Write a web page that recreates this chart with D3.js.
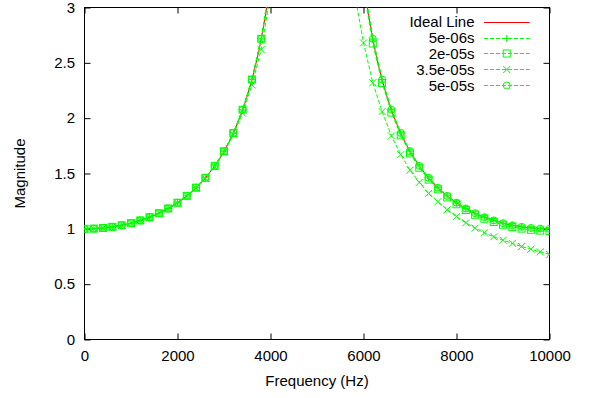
<!DOCTYPE html>
<html>
<head>
<meta charset="utf-8">
<script src="https://cdn.jsdelivr.net/npm/d3@7"></script>
<style>
  html, body { margin: 0; padding: 0; background: #fff; }
  svg { display: block; }
  text { font-family: "Liberation Sans", Arial, Helvetica, sans-serif; }
</style>
</head>
<body>
<svg id="chart" width="590" height="398"></svg>
<script>
// ---- data ----
const freq = [0,200,400,600,800,1000,1200,1400,1600,1800,2000,2200,2400,2600,2800,3000,3200,3400,3600,3800,4000,4200,4400,4600,4800,5000,5200,5400,5600,5800,6000,6200,6400,6600,6800,7000,7200,7400,7600,7800,8000,8200,8400,8600,8800,9000,9200,9400,9600,9800,10000];

const idealMag = [1.000,1.002,1.008,1.018,1.032,1.051,1.076,1.105,1.141,1.184,1.236,1.298,1.372,1.461,1.569,1.701,1.866,2.076,2.349,2.717,3.236,4.021,5.337,7.979,15.93,null,15.93,7.979,5.337,4.021,3.236,2.717,2.349,2.076,1.866,1.701,1.569,1.461,1.372,1.298,1.236,1.184,1.141,1.105,1.076,1.051,1.032,1.018,1.008,1.002,1.000];

const mag5e06 = [1.000,1.002,1.008,1.018,1.032,1.051,1.076,1.105,1.141,1.184,1.236,1.298,1.372,1.461,1.569,1.701,1.866,2.076,2.349,2.717,3.236,4.021,5.337,7.979,15.93,null,15.93,7.979,5.337,4.021,3.236,2.717,2.349,2.076,1.866,1.701,1.569,1.461,1.372,1.298,1.236,1.184,1.141,1.105,1.076,1.051,1.032,1.018,1.008,1.002,1.000];

const mag2e05 = [1.000,1.002,1.008,1.018,1.032,1.051,1.076,1.105,1.141,1.184,1.236,1.298,1.372,1.461,1.569,1.701,1.866,2.076,2.349,2.717,3.236,4.021,5.337,7.979,15.93,null,15.60,7.850,5.250,3.960,3.170,2.675,2.318,2.050,1.845,1.682,1.552,1.445,1.357,1.284,1.222,1.170,1.127,1.091,1.062,1.037,1.017,1.002,0.991,0.984,0.980];

const mag35e05 = [1.000,1.002,1.008,1.018,1.032,1.051,1.075,1.104,1.140,1.183,1.234,1.295,1.368,1.455,1.561,1.690,1.850,2.045,2.300,2.620,3.120,3.850,5.000,7.200,13.00,null,12.00,6.500,4.400,3.150,2.680,2.320,2.060,1.840,1.670,1.530,1.420,1.320,1.245,1.172,1.110,1.055,1.006,0.964,0.928,0.897,0.868,0.840,0.816,0.792,0.769];

const mag5e05 = [1.000,1.002,1.008,1.018,1.032,1.051,1.076,1.105,1.141,1.184,1.236,1.298,1.372,1.461,1.569,1.701,1.866,2.076,2.349,2.717,3.236,4.021,5.337,7.979,15.93,null,15.93,7.979,5.337,4.021,3.236,2.717,2.349,2.076,1.866,1.701,1.569,1.461,1.372,1.298,1.236,1.184,1.141,1.105,1.076,1.051,1.032,1.018,1.008,1.002,1.000];

const seriesNames = ["Ideal Line", "5e-06s", "2e-05s", "3.5e-05s", "5e-05s"];
const xTicks = [0, 2000, 4000, 6000, 8000, 10000];
const yTicks = [0, 0.5, 1, 1.5, 2, 2.5, 3];
const xLabel = "Frequency (Hz)";
const yLabel = "Magnitude";

// ---- layout ----
const svg = d3.select("#chart");
const L = 84.5, R = 549.5, T = 7.5, B = 339.5;
const FONT = 15;
const green = "#00ff00";

const x = d3.scaleLinear().domain([0, 10000]).range([L, R]);
const y = d3.scaleLinear().domain([0, 3]).range([B, T]);

svg.append("defs").append("clipPath").attr("id", "plotclip")
  .append("rect").attr("x", L).attr("y", T).attr("width", R - L).attr("height", B - T);

// axes (ticks inward, mirrored)
const fmt = d => String(d);
const gx = svg.append("g").attr("transform", `translate(0,${B})`)
  .call(d3.axisBottom(x).tickValues(xTicks).tickFormat(fmt).tickSizeInner(-6).tickSizeOuter(0).tickPadding(11));
const gxt = svg.append("g").attr("transform", `translate(0,${T})`)
  .call(d3.axisTop(x).tickValues(xTicks).tickFormat("").tickSizeInner(-6).tickSizeOuter(0));
const gy = svg.append("g").attr("transform", `translate(${L},0)`)
  .call(d3.axisLeft(y).tickValues(yTicks).tickFormat(fmt).tickSizeInner(-6).tickSizeOuter(0).tickPadding(9.5));
const gyr = svg.append("g").attr("transform", `translate(${R},0)`)
  .call(d3.axisRight(y).tickValues(yTicks).tickFormat("").tickSizeInner(-6).tickSizeOuter(0));

[gx, gxt, gy, gyr].forEach(g => {
  g.select(".domain").remove();
  g.selectAll(".tick line").attr("stroke", "#000").attr("stroke-width", 1);
  g.selectAll("text").attr("font-size", FONT).attr("fill", "#000")
    .attr("font-family", '"Liberation Sans", Arial, Helvetica, sans-serif');
});

svg.append("rect").attr("x", L).attr("y", T).attr("width", R - L).attr("height", B - T)
  .attr("fill", "none").attr("stroke", "#000").attr("stroke-width", 1);

// axis titles
svg.append("text").attr("x", (L + R) / 2).attr("y", 386).attr("text-anchor", "middle")
  .attr("font-size", FONT).text(xLabel);
svg.append("text").attr("transform", `translate(24.5,${(T + B) / 2}) rotate(-90)`)
  .attr("text-anchor", "middle").attr("font-size", FONT).text(yLabel);

// ---- series ----
const plot = svg.append("g").attr("clip-path", "url(#plotclip)");

function toPts(vals) { return freq.map((f, i) => ({ f, v: vals[i] })); }

const lineSmooth = d3.line().defined(d => d.v !== null).x(d => x(d.f)).y(d => y(d.v)).curve(d3.curveMonotoneX);
const lineLin = d3.line().defined(d => d.v !== null).x(d => x(d.f)).y(d => y(d.v));

// marker drawing functions
const S = 3.5;
const markers = {
  plus: (g, cx, cy) => g.append("path").attr("d", `M${cx - S},${cy}H${cx + S}M${cx},${cy - S}V${cy + S}`),
  square: (g, cx, cy) => g.append("rect").attr("x", cx - S).attr("y", cy - S).attr("width", 2 * S).attr("height", 2 * S),
  cross: (g, cx, cy) => g.append("path").attr("d", `M${cx - S},${cy - S}L${cx + S},${cy + S}M${cx - S},${cy + S}L${cx + S},${cy - S}`),
  circle: (g, cx, cy) => g.append("circle").attr("cx", cx).attr("cy", cy).attr("r", S)
};

// ideal line (red)
plot.append("path").datum(toPts(idealMag)).attr("d", lineSmooth)
  .attr("fill", "none").attr("stroke", "#ff0000").attr("stroke-width", 1);

const greenSeries = [
  { name: seriesNames[1], vals: mag5e06, mk: "plus" },
  { name: seriesNames[2], vals: mag2e05, mk: "square" },
  { name: seriesNames[3], vals: mag35e05, mk: "cross" },
  { name: seriesNames[4], vals: mag5e05, mk: "circle" }
];

greenSeries.forEach(s => {
  const pts = toPts(s.vals);
  plot.append("path").datum(pts).attr("d", lineLin)
    .attr("fill", "none").attr("stroke", green).attr("stroke-width", 1).attr("stroke-dasharray", "4,2");
  const mg = plot.append("g").attr("fill", "none").attr("stroke", green).attr("stroke-width", 1);
  pts.filter(d => d.v !== null && d.v <= 3.2).forEach(d => markers[s.mk](mg, x(d.f), y(d.v)));
});

// ---- legend ----
const leg = svg.append("g");
const legTextX = 474.5, legX1 = 484, legX2 = 529.5, legRow0 = 27.3, legStep = 15.8;
seriesNames.forEach((name, i) => {
  const by = legRow0 + i * legStep;
  const ly = Math.round(by - 5.5) + 0.5;
  leg.append("text").attr("x", legTextX).attr("y", by).attr("text-anchor", "end")
    .attr("font-size", FONT).text(name);
  if (i === 0) {
    leg.append("line").attr("x1", legX1).attr("x2", legX2).attr("y1", ly).attr("y2", ly)
      .attr("stroke", "#ff0000").attr("stroke-width", 1);
  } else {
    const s = greenSeries[i - 1];
    leg.append("line").attr("x1", legX1).attr("x2", legX2).attr("y1", ly).attr("y2", ly)
      .attr("stroke", green).attr("stroke-width", 1).attr("stroke-dasharray", "4,2");
    const mg = leg.append("g").attr("fill", "none").attr("stroke", green).attr("stroke-width", 1);
    markers[s.mk](mg, (legX1 + legX2) / 2, ly);
  }
});
</script>
</body>
</html>
